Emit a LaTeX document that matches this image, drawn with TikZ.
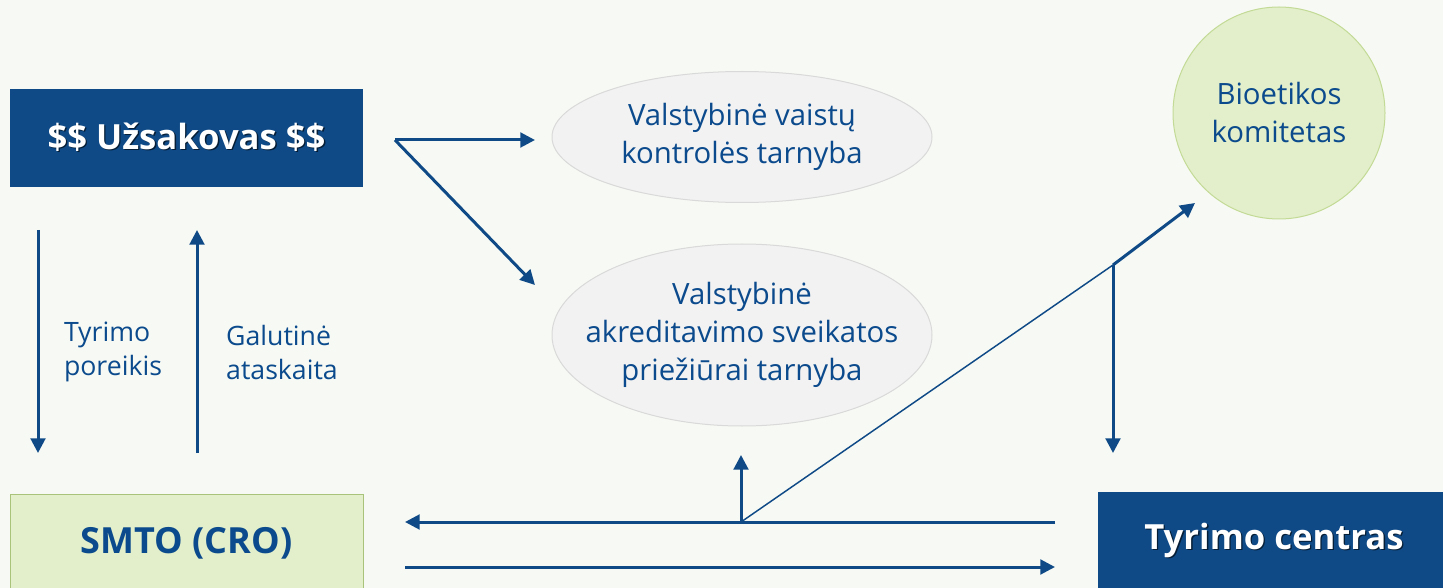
\documentclass[tikz,border=0pt]{standalone}
\usepackage{fontspec}
\setmainfont{Open Sans}
\usetikzlibrary{arrows.meta,shapes.geometric}
\definecolor{bg}{HTML}{F7FAF4}
\definecolor{navy}{HTML}{0F4A87}
\definecolor{txt}{HTML}{0B4A8C}
\definecolor{lgreen}{HTML}{E2EFCA}
\definecolor{gborder}{HTML}{A9C47A}
\definecolor{cborder}{HTML}{C3DA96}
\definecolor{egray}{HTML}{F2F2F2}
\definecolor{eborder}{HTML}{D9D9D9}
\newcommand\shtext[1]{\rlap{\kern1pt\raisebox{-1pt}{\textcolor{navy!40!black}{#1}}}#1}
\tikzset{
  bluebox/.style={rectangle, fill=navy, text=white, font=\bfseries\fontsize{26}{31}\selectfont,
    minimum width=264.75pt, minimum height=73.5pt, inner sep=0pt},
  greenbox/.style={rectangle, fill=lgreen, draw=gborder, line width=0.75pt, text=txt,
    font=\bfseries\fontsize{27}{32}\selectfont, minimum width=264.75pt, minimum height=73.5pt, inner sep=0pt},
  oval/.style={ellipse, fill=egray, draw=eborder, line width=0.75pt, text=txt, align=center,
    font=\fontsize{22}{28.5}\selectfont, inner sep=0pt, minimum width=285pt},
  bubble/.style={circle, fill=lgreen, draw=cborder, line width=0.75pt, text=txt, align=center,
    font=\fontsize{22}{28.5}\selectfont, inner sep=0pt, minimum size=159pt},
  lbl/.style={text=txt, align=left, font=\fontsize{20}{25.5}\selectfont, inner sep=0pt},
  arr/.style={draw=navy, line width=2.25pt, -{Triangle[length=11pt,width=11pt]}},
  thin/.style={draw=navy, line width=1.1pt}
}
\begin{document}
\begin{tikzpicture}[x=0.75pt,y=-0.75pt]
\fill[bg] (0,0) rectangle (1443,588);
\useasboundingbox (0,0) rectangle (1443,588);

\node[bluebox] (client) at (186.5,138) {\shtext{\$\$ Užsakovas \$\$}};
\node[greenbox] (cro) at (186.5,543) {SMTO (CRO)};
\node[bluebox] (site) at (1274,541) {\shtext{Tyrimo centras}};
\node[oval, minimum height=98.25pt] (vvkt) at (742,137) {Valstybinė vaistų\\kontrolės tarnyba};
\node[oval, minimum height=136.5pt, inner xsep=-16.5pt] (vaspvt) at (742,335) {Valstybinė\\akreditavimo sveikatos\\priežiūrai tarnyba};
\node[bubble] (bio) at (1279,113) {Bioetikos\\komitetas};

\node[lbl] (need) at (113,352) {Tyrimo\\poreikis};
\node[lbl] (report) at (282,352) {Galutinė\\ataskaita};

% coordinates for connector ends
\coordinate (c0) at (395,140);
\coordinate (c1) at (535,140);
\coordinate (c2) at (535,285);
\coordinate (d1) at (38,230);
\coordinate (d2) at (38,453);
\coordinate (u1) at (197,453);
\coordinate (u2) at (197,230);
\coordinate (r1) at (1055,522);
\coordinate (r2) at (405,522);
\coordinate (l1) at (405,567);
\coordinate (l2) at (1055,567);
\coordinate (j) at (741,522);
\coordinate (jup) at (741,455);
\coordinate (k) at (1113,265);
\coordinate (kbio) at (1195,203);
\coordinate (kdown) at (1113,453);

\draw[arr] (c0) -- (c1);
\draw[arr] (c0) -- (c2);
\draw[arr] (d1) -- (d2);
\draw[arr] (u1) -- (u2);
\draw[arr] (r1) -- (r2);
\draw[arr] (l1) -- (l2);
\draw[arr] (j) -- (jup);
\draw[thin] (j) -- (k);
\draw[arr] (k) -- (kbio);
\draw[arr] (k) -- (kdown);
\end{tikzpicture}
\end{document}
